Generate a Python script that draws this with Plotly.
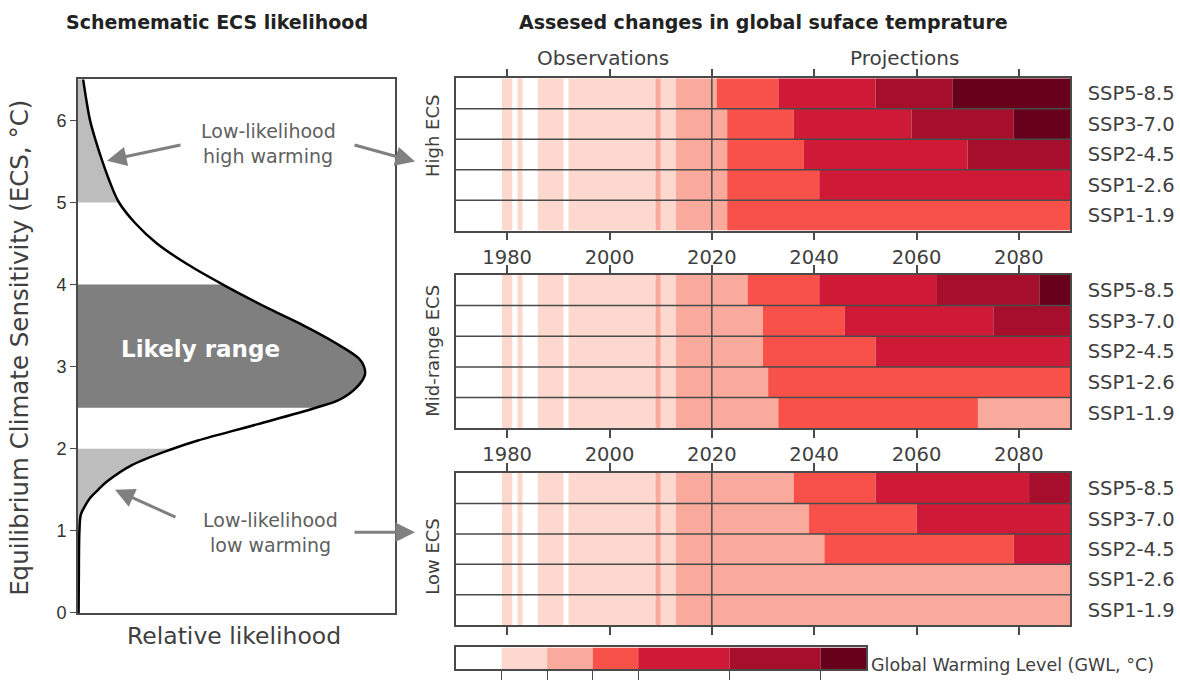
import plotly.graph_objects as go

W, H = 1180, 688

# ---------------- Left panel data (schematic ECS likelihood) ----------------
ECS = [0.0, 0.5, 1.0, 1.2, 1.3, 1.4, 1.5, 1.6, 1.8, 2.0, 2.1, 2.3, 2.5, 2.6, 2.75,
       2.9, 3.0, 3.1, 3.3, 3.5, 3.7, 4.0, 4.25, 4.5, 4.75, 5.0, 5.25, 5.5, 5.75,
       6.0, 6.25, 6.5]
LIKELIHOOD = [0.002, 0.003, 0.005, 0.010, 0.024, 0.042, 0.070, 0.101, 0.188, 0.331,
              0.418, 0.627, 0.829, 0.913, 0.972, 1.000, 0.997, 0.979, 0.892, 0.787,
              0.669, 0.505, 0.380, 0.275, 0.199, 0.143, 0.111, 0.085, 0.062, 0.042,
              0.029, 0.018]
LOW_RANGE = (0.0, 2.0)
LIKELY_RANGE = (2.5, 4.0)
HIGH_RANGE = (5.0, 6.5)
ECS_TICKS = [0, 1, 2, 3, 4, 5, 6]

# ---------------- Right panel data (warming level stripes) ----------------
SCENARIOS = ["SSP5-8.5", "SSP3-7.0", "SSP2-4.5", "SSP1-2.6", "SSP1-1.9"]
YEAR_TICKS = [1980, 2000, 2020, 2040, 2060, 2080]

OBS_EDGES = [1970, 1979, 1981, 1982, 1983, 1986, 1991, 1992, 2009, 2010, 2013]
OBS_LEVELS = [0, 1, 0, 1, 0, 1, 0, 1, 2, 1]

HIGH_EDGES = [[2013, 2021, 2033, 2052, 2067, 2090],
              [2013, 2023, 2036, 2059, 2079, 2090],
              [2013, 2023, 2038, 2070, 2090],
              [2013, 2023, 2041, 2090],
              [2013, 2023, 2090]]
HIGH_LEVELS = [[2, 3, 4, 5, 6], [2, 3, 4, 5, 6], [2, 3, 4, 5], [2, 3, 4], [2, 3]]

MID_EDGES = [[2013, 2027, 2041, 2064, 2084, 2090],
             [2013, 2030, 2046, 2075, 2090],
             [2013, 2030, 2052, 2090],
             [2013, 2031, 2090],
             [2013, 2033, 2072, 2090]]
MID_LEVELS = [[2, 3, 4, 5, 6], [2, 3, 4, 5], [2, 3, 4], [2, 3], [2, 3, 2]]

LOW_EDGES = [[2013, 2036, 2052, 2082, 2090],
             [2013, 2039, 2060, 2090],
             [2013, 2042, 2079, 2090],
             [2013, 2090],
             [2013, 2090]]
LOW_LEVELS = [[2, 3, 4, 5], [2, 3, 4], [2, 3, 4], [2], [2]]

GWL_COLORS = ["#ffffff", "#fcd8cf", "#f9aa9c", "#f8514a", "#cf1a37", "#a50f2c", "#67001a"]
GWL_SPAN = [1, 1, 1, 1, 2, 2, 1]

# ---------------- helpers ----------------
FONT = "DejaVu Sans"
TXT = "#404040"
AX = "#4a4a4a"


def px(x):
    return x / W


def py(y):
    return 1 - y / H


fig = go.Figure()

# ---- left panel fills + curve
def subset(lo, hi):
    xs, ys = [], []
    for e, l in zip(ECS, LIKELIHOOD):
        if lo <= e <= hi:
            xs.append(l)
            ys.append(e)
    return xs, ys

for (lo, hi), col in [(LOW_RANGE, "#bdbdbd"), (LIKELY_RANGE, "#7f7f7f"), (HIGH_RANGE, "#bdbdbd")]:
    xs, ys = subset(lo, hi)
    fig.add_trace(go.Scatter(x=xs, y=ys, mode="lines", fill="tozerox", fillcolor=col,
                             line=dict(width=0, shape="spline", color=col),
                             xaxis="x", yaxis="y", showlegend=False, hoverinfo="skip"))

fig.add_trace(go.Scatter(x=LIKELIHOOD, y=ECS, mode="lines",
                         line=dict(color="black", width=2.5, shape="spline"),
                         xaxis="x", yaxis="y", showlegend=False))

# ---- right panels
panels = [("x2", "y2", HIGH_EDGES, HIGH_LEVELS),
          ("x3", "y3", MID_EDGES, MID_LEVELS),
          ("x4", "y4", LOW_EDGES, LOW_LEVELS)]

for xa, ya, edges, levels in panels:
    segs = {k: ([], [], []) for k in range(len(GWL_COLORS))}
    for i, name in enumerate(SCENARIOS):
        row = len(SCENARIOS) - 1 - i
        for j, lev in enumerate(OBS_LEVELS):
            s, e = OBS_EDGES[j], OBS_EDGES[j + 1]
            segs[lev][0].append(row); segs[lev][1].append(s); segs[lev][2].append(e - s)
        for j, lev in enumerate(levels[i]):
            s, e = edges[i][j], edges[i][j + 1]
            segs[lev][0].append(row); segs[lev][1].append(s); segs[lev][2].append(e - s)
    for lev, (ys, bs, ws) in segs.items():
        if not ys:
            continue
        fig.add_trace(go.Bar(orientation="h", y=ys, base=bs, x=ws, width=1,
                             marker=dict(color=GWL_COLORS[lev], line=dict(width=0)),
                             xaxis=xa, yaxis=ya, showlegend=False))

# ---- colour scale bar
base = 0
for col, span in zip(GWL_COLORS, GWL_SPAN):
    fig.add_trace(go.Bar(orientation="h", y=[0], base=[base], x=[span], width=1,
                         marker=dict(color=col, line=dict(width=0)),
                         xaxis="x5", yaxis="y5", showlegend=False))
    base += span
cb_ticks = []
acc = 0
for span in GWL_SPAN[:-1]:
    acc += span
    cb_ticks.append(acc)

# ---------------- layout ----------------
right_dom = [px(456), px(1070)]
layout = dict(
    width=W, height=H, margin=dict(l=0, r=0, t=0, b=0),
    paper_bgcolor="white", plot_bgcolor="white",
    barmode="overlay", font=dict(family=FONT, color=TXT),
    xaxis=dict(domain=[px(78), px(395)], range=[0, 1.105], showticklabels=False,
               ticks="", showgrid=False, zeroline=False, showline=True, mirror=True,
               linecolor=AX, linewidth=2),
    yaxis=dict(domain=[py(622), py(80.5)], range=[0, 6.5], tickvals=ECS_TICKS,
               ticks="outside", ticklen=6, tickcolor=AX, showgrid=False, zeroline=False,
               showline=True, mirror=True, linecolor=AX, linewidth=2,
               tickfont=dict(family="Liberation Sans", size=18, color="#333333")),
)

y_doms = {"2": [py(234), py(79.5)], "3": [py(434.5), py(279)], "4": [py(634.5), py(480)]}
for k in ["2", "3", "4"]:
    layout["xaxis" + k] = dict(domain=right_dom, range=[1970, 2090], tickvals=YEAR_TICKS,
                               ticks="outside", ticklen=8, tickcolor=AX, tickwidth=1.5,
                               showticklabels=(k != "4"), showgrid=False, zeroline=False,
                               showline=True, mirror="ticks", linecolor=AX, linewidth=1.5,
                               tickfont=dict(size=19.5, color=TXT), anchor="y" + k)
    layout["yaxis" + k] = dict(domain=y_doms[k], range=[-0.5, 4.5],
                               tickvals=list(range(len(SCENARIOS))),
                               ticktext=SCENARIOS[::-1], side="right", ticks="",
                               ticklabelstandoff=12,
                               showgrid=False, zeroline=False, showline=True, mirror=True,
                               linecolor=AX, linewidth=1.5, anchor="x" + k,
                               tickfont=dict(size=19.5, color=TXT))

layout["xaxis5"] = dict(domain=[px(456), px(866)], range=[0, sum(GWL_SPAN)], tickvals=cb_ticks,
                        ticks="outside", ticklen=9, tickcolor=AX, showticklabels=False,
                        showgrid=False, zeroline=False, showline=True, mirror=True,
                        linecolor=AX, linewidth=1.5, anchor="y5")
layout["yaxis5"] = dict(domain=[py(679), py(657)], range=[-0.5, 0.5], showticklabels=False,
                        ticks="", showgrid=False, zeroline=False, showline=True, mirror=True,
                        linecolor=AX, linewidth=1.5, anchor="x5")

shapes = []
for k in ["2", "3", "4"]:
    for yv in [0.5, 1.5, 2.5, 3.5]:
        shapes.append(dict(type="line", xref="x%s domain" % k, yref="y" + k, x0=0, x1=1,
                           y0=yv, y1=yv, line=dict(color=AX, width=1.5), layer="above"))
    shapes.append(dict(type="line", xref="x" + k, yref="y%s domain" % k, x0=2020, x1=2020,
                       y0=0, y1=1, line=dict(color=AX, width=1.5), layer="above"))
layout["shapes"] = shapes

ann = []


def text(x, y, t, size, color=TXT, angle=0, xanchor="center", bold=False, family=FONT):
    ann.append(dict(x=px(x), y=py(y), xref="paper", yref="paper", text=("<b>%s</b>" % t) if bold else t,
                    showarrow=False, textangle=angle, xanchor=xanchor, yanchor="middle",
                    font=dict(size=size, color=color, family=family)))


text(217, 22, "Schemematic ECS likelihood", 19, "#222222", bold=True)
text(763, 22, "Assesed changes in global suface temprature", 19, "#222222", bold=True)
text(603, 59, "Observations", 20)
text(904, 59, "Projections", 20)
text(433, 138, "High ECS", 18, angle=-90)
text(433, 356, "Mid-range ECS", 18, angle=-90)
text(433, 565, "Low ECS", 18, angle=-90)
text(20, 353, "Equilibrium Climate Sensitivity (ECS, °C)", 24.5, angle=-90)
text(234, 645, "Relative likelihood", 23.5)
text(200, 354, "Likely range", 23, "white", bold=True)
text(268, 133, "Low-likelihood", 19, "#606060")
text(268, 158, "high warming", 19, "#606060")
text(270, 528, "Low-likelihood", 19, "#606060")
text(270, 553, "low warming", 19, "#606060")
text(869, 675, "Global Warming Level (GWL, °C)", 17.5, xanchor="left")

for (hx, hy, tx, ty) in [(107, 163, 182, 147), (415, 164, 353, 147),
                          (115, 497, 177, 525), (415, 540, 353, 540)]:
    ann.append(dict(x=px(hx), y=py(hy), ax=tx - hx, ay=ty - hy, xref="paper", yref="paper",
                    axref="pixel", ayref="pixel", text="", showarrow=True, arrowhead=2,
                    arrowsize=1.3, arrowwidth=3, arrowcolor="#808080"))
layout["annotations"] = ann

fig.update_layout(**layout)
fig.write_html("out.html", config={"displayModeBar": False},
               post_script="document.body.style.margin='0px';")
